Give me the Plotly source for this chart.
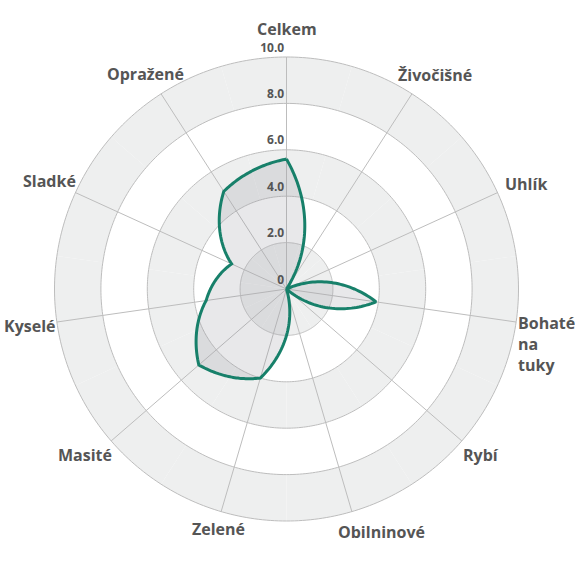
import math
import plotly.graph_objects as go

categories = ["Celkem", "Živočišné", "Uhlík", "Bohaté<br>na<br>tuky", "Rybí",
              "Obilninové", "Zelené", "Masité", "Kyselé", "Sladké", "Opražené"]
values = [5.6, 0, 0, 3.9, 0, 0, 4.0, 5.0, 3.5, 2.6, 5.0]
tick_vals = [0, 2, 4, 6, 8, 10]
tick_text = ["0", "2.0", "4.0", "6.0", "8.0", "10.0"]
band_colors = ["#eeefef", "#ffffff", "#eeefef", "#ffffff", "#eeefef"]

n = len(categories)
step = 360 / n
angles = [i * step for i in range(n)]
GRID = "#bdbdbd"
TEXT = "#555555"

# layout geometry (figure pixels)
W = H = 575
CX, CY = 286.5, 289.0      # polar centre
R10 = 232.0                # radius of value 10
RMAX = 10.4                # radial range max (room for the "10.0" label)
RL = 260.0                 # radius of category label centres
# small per-label nudges (pixels, x right / y up)
label_nudge = {
    "Živočišné": (8, -5),
    "Obilninové": (22, 6),
    "Zelené": (5, 9),
    "Opražené": (0, -4),
    "Rybí": (-2, 4),
    "Masité": (-5, 4),
    "Uhlík": (3, -3),
}


def polar_curve(vals, thetas, seg=40):
    """Render path whose radius changes linearly with angle between categories."""
    rr, tt = [], []
    for i in range(len(vals)):
        r0, r1 = vals[i], vals[(i + 1) % len(vals)]
        a0 = thetas[i]
        for k in range(seg):
            f = k / seg
            rr.append(r0 + (r1 - r0) * f)
            tt.append(a0 + step * f)
    rr.append(vals[0])
    tt.append(thetas[0] + 360)
    return rr, tt


fig = go.Figure()

# alternating background bands
for i, col in enumerate(band_colors):
    fig.add_trace(go.Barpolar(
        r=[tick_vals[i + 1] - tick_vals[i]] * n,
        theta=angles,
        width=[step] * n,
        base=tick_vals[i],
        marker=dict(color=col, line=dict(width=0)),
        hoverinfo="skip",
        showlegend=False,
    ))

# grid rings
for v in tick_vals[1:]:
    fig.add_trace(go.Scatterpolar(
        r=[v] * 361, theta=list(range(361)), mode="lines",
        line=dict(color=GRID, width=1), hoverinfo="skip", showlegend=False,
    ))

# spokes
sr, st = [], []
for a in angles:
    sr += [0, tick_vals[-1], None]
    st += [a, a, None]
fig.add_trace(go.Scatterpolar(
    r=sr, theta=st, mode="lines",
    line=dict(color=GRID, width=1), hoverinfo="skip", showlegend=False,
))

cr, ct = polar_curve(values, angles)
fig.add_trace(go.Scatterpolar(
    r=cr, theta=ct,
    mode="lines",
    line=dict(color="#17806a", width=3),
    fill="toself",
    fillcolor="rgba(150,150,160,0.22)",
    showlegend=False,
    hoverinfo="skip",
))

# category labels centred on a circle outside the chart
for a, lab in zip(angles, categories):
    rad = math.radians(a)
    x = (CX + RL * math.sin(rad)) / W
    y = 1 - (CY - RL * math.cos(rad)) / H
    multi = "<br>" in lab
    dx, dy = label_nudge.get(lab, (0, 0))
    fig.add_annotation(
        x=x, y=y, xref="paper", yref="paper",
        text=lab, showarrow=False,
        xanchor="left" if multi else "center",
        yanchor="top" if multi else "middle",
        yshift=(16 if multi else 0) + dy,
        xshift=(-28 if multi else 0) + dx,
        align="left",
        font=dict(size=16, color=TEXT, family="Open Sans", weight="bold"),
    )

half = R10 * RMAX / 10
fig.update_layout(
    width=W, height=H,
    margin=dict(l=0, r=0, t=0, b=0),
    paper_bgcolor="white",
    font=dict(family="Open Sans, sans-serif", color=TEXT),
    polar=dict(
        domain=dict(x=[(CX - half) / W, (CX + half) / W],
                    y=[1 - (CY + half) / H, 1 - (CY - half) / H]),
        bgcolor="white",
        barmode="overlay",
        bargap=0,
        radialaxis=dict(
            range=[0, RMAX],
            tickvals=[v + 0.4 for v in tick_vals],
            ticktext=tick_text,
            angle=90,
            tickangle=90,
            side="counterclockwise",
            showline=False,
            showgrid=False,
            ticks="",
            tickfont=dict(size=12, color=TEXT, family="Open Sans", weight="bold"),
            layer="above traces",
        ),
        angularaxis=dict(
            tickmode="array",
            tickvals=angles,
            ticktext=categories,
            showticklabels=False,
            direction="clockwise",
            rotation=90,
            showgrid=False,
            showline=False,
            ticks="",
        ),
    ),
)

fig.write_html(
    "out.html",
    config={"displayModeBar": False},
    post_script="document.body.style.margin='0';document.body.style.overflow='hidden';",
)
